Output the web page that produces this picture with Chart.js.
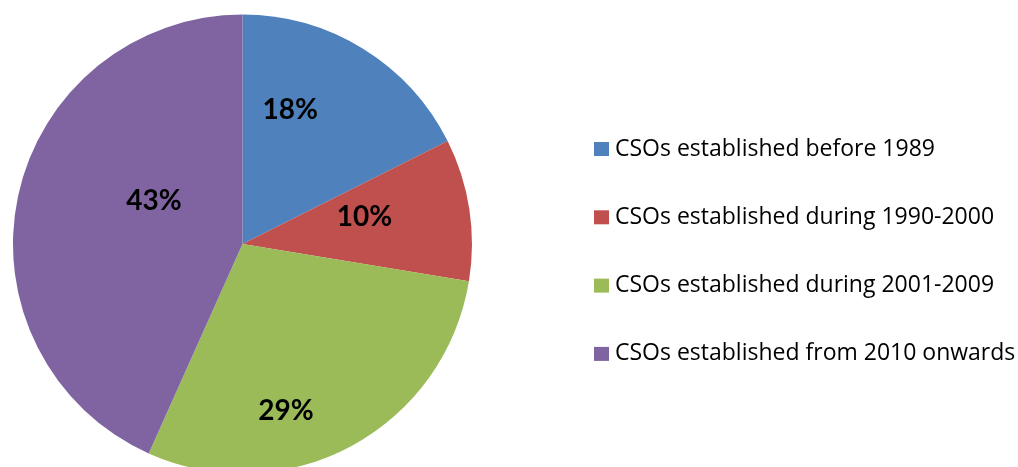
<!DOCTYPE html>
<html>
<head>
<meta charset="utf-8">
<script src="https://cdn.jsdelivr.net/npm/chart.js@4.4.1/dist/chart.umd.min.js"></script>
<style>
  html, body { margin: 0; padding: 0; background: #fff; overflow: hidden; }
  #wrap { position: relative; width: 1018px; height: 480px; }
</style>
</head>
<body>
<div id="wrap"><canvas id="pie-chart"></canvas></div>
<script>
// Share of CSOs by period of establishment (percent).
const periods = [
    'CSOs established before 1989',
    'CSOs established during 1990-2000',
    'CSOs established during 2001-2009',
    'CSOs established from 2010 onwards'
];
const shares = [17.6, 10.0, 29.1, 43.3];
const sliceColors = ['#4F81BD', '#C0504D', '#9BBB59', '#8064A2'];

// Where each percentage label sits inside its slice: `along` is the fraction
// of the slice's sweep, `out` the fraction of the radius.
const labelPlacement = [
    { along: 0.31, out: 0.62 },
    { along: 0.39, out: 0.545 },
    { along: 0.63, out: 0.75 },
    { along: 0.59, out: 0.43 }
];

const sliceLabels = {
    id: 'sliceLabels',
    afterDatasetsDraw(chart) {
        const ctx = chart.ctx;
        const meta = chart.getDatasetMeta(0);
        const total = shares.reduce(function(a, b) { return a + b; }, 0);
        ctx.save();
        ctx.font = 'bold 28px Lato';
        ctx.fillStyle = '#000';
        ctx.textAlign = 'center';
        ctx.textBaseline = 'middle';
        meta.data.forEach(function(arc, i) {
            const p = labelPlacement[i];
            const a = arc.startAngle + (arc.endAngle - arc.startAngle) * p.along;
            const r = arc.outerRadius * p.out;
            const text = Math.round(shares[i] / total * 100) + '%';
            ctx.fillText(text, arc.x + Math.cos(a) * r, arc.y + Math.sin(a) * r);
        });
        ctx.restore();
    }
};

// Office-style legend: small squares with the label to the right.
const sideLegend = {
    id: 'sideLegend',
    afterDraw(chart) {
        const ctx = chart.ctx;
        const ds = chart.data.datasets[0];
        ctx.save();
        ctx.font = '23px "Open Sans"';
        ctx.textBaseline = 'middle';
        ctx.textAlign = 'left';
        chart.data.labels.forEach(function(label, i) {
            const y = 149 + i * 68.3;
            ctx.fillStyle = ds.backgroundColor[i];
            ctx.fillRect(594, y - 7, 15, 14);
            ctx.fillStyle = '#000';
            ctx.fillText(label, 615, y);
        });
        ctx.restore();
    }
};

new Chart(document.getElementById('pie-chart'), {
    type: 'pie',
    data: {
        labels: periods,
        datasets: [{
            data: shares,
            backgroundColor: sliceColors,
            borderWidth: 0
        }]
    },
    options: {
        responsive: true,
        maintainAspectRatio: false,
        animation: false,
        layout: { padding: { left: 13, top: 14.5, right: 546, bottom: 6.5 } },
        plugins: {
            legend: { display: false },
            tooltip: { enabled: false }
        }
    },
    plugins: [sliceLabels, sideLegend]
});
</script>
</body>
</html>
